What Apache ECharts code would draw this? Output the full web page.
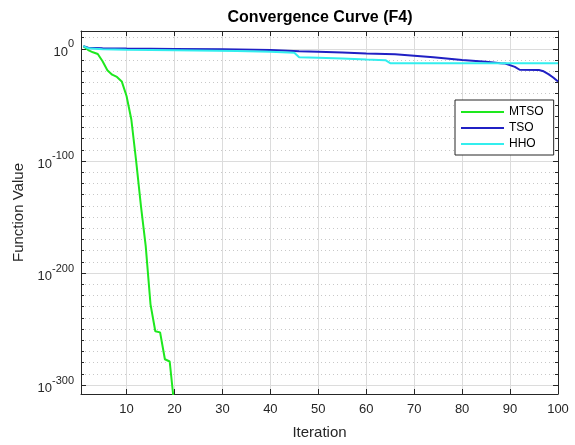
<!DOCTYPE html>
<html style="height: 100%">
<head>
    <meta charset="utf-8" />
    <title>Convergence Curve (F4)</title>
    <script type="text/javascript" src="https://cdn.jsdelivr.net/npm/echarts@6/dist/echarts.min.js"></script>
</head>
<body style="height: 100%; margin: 0">
<div id="main" style="width: 575px; height: 445px"></div>
<script type="text/javascript">
      // values are log10 of the function value (the y axis is a log scale)
      var mtsoIter = [1, 2, 3, 4, 5, 6, 7, 8, 9, 10, 11, 12, 13, 14, 15, 16, 17, 18, 19, 20];
      var mtsoLog10 = [2.5, -1, -3, -4.5, -11, -19, -23, -25, -29, -42, -63, -100, -140, -176, -228, -252, -253, -277, -279, -320];

      var tsoIter = [1, 2, 5, 10, 20, 30, 40, 46, 50, 55, 60, 66, 70, 74, 80, 85, 88, 89, 91, 92, 96, 97, 98, 99, 100];
      var tsoLog10 = [2.5, 1, 0.5, 0.3, 0, -0.3, -1, -2, -2.5, -3.2, -4, -4.7, -6, -7.4, -9.8, -11.5, -12.7, -13, -16, -18.6, -18.8, -20, -22.5, -25.5, -29];

      var hhoIter = [1, 2, 5, 10, 20, 33, 40, 45, 46, 50, 55, 60, 64, 65, 100];
      var hhoLog10 = [2.5, 0.5, -0.3, -0.7, -1.2, -1.8, -2.5, -3.5, -7.4, -7.8, -8.5, -9.5, -10, -12.7, -12.8];

      var seriesNames = ["MTSO", "TSO", "HHO"];
      var seriesColors = ["#1ee81e", "#2020c4", "#33eeee"];

      function pairs(xs, ys) {
        return xs.map(function (x, i) { return [x, ys[i]]; });
      }

      var font = "'Liberation Sans', Arial, sans-serif";
      var axisColor = "#262626";

      var chart = echarts.init(document.getElementById("main"));
      var option = {
        animation: false,
        backgroundColor: "#fff",
        textStyle: { fontFamily: font },
        title: {
          text: "Convergence Curve (F4)",
          left: 320,
          top: 10,
          padding: 0,
          textAlign: "center",
          textStyle: { fontSize: 16, fontWeight: "bold", color: "#000", fontFamily: font }
        },
        legend: {
          data: seriesNames,
          orient: "vertical",
          left: 455,
          top: 100,
          padding: [6, 10, 5, 5],
          itemWidth: 43,
          itemHeight: 14,
          itemGap: 4,
          backgroundColor: "#fff",
          borderColor: axisColor,
          borderWidth: 1,
          borderRadius: 0,
          itemStyle: { opacity: 0 },
          textStyle: { fontSize: 12, color: "#000", fontFamily: font }
        },
        grid: { left: 81, right: 17, top: 31, bottom: 47 },
        xAxis: [
          {
            type: "value",
            min: 0.5,
            max: 100,
            splitNumber: 10,
            name: "Iteration",
            nameLocation: "middle",
            nameGap: 31,
            nameTextStyle: { fontSize: 15, color: axisColor, fontFamily: font },
            axisLine: { show: true, onZero: false, lineStyle: { color: axisColor, width: 1 } },
            axisTick: { show: true, inside: true, length: 5, lineStyle: { color: axisColor } },
            axisLabel: {
              fontSize: 13, color: axisColor, margin: 9, showMinLabel: false,
              formatter: function (v) { return v % 10 === 0 ? String(v) : ""; }
            },
            splitLine: { show: true, lineStyle: { color: "#dcdcdc", width: 1 } }
          },
          {
            type: "value",
            position: "top",
            min: 0.5,
            max: 100,
            splitNumber: 10,
            axisLine: { show: true, onZero: false, lineStyle: { color: axisColor, width: 1 } },
            axisTick: { show: true, inside: true, length: 5, lineStyle: { color: axisColor } },
            axisLabel: { show: false },
            splitLine: { show: false }
          }
        ],
        yAxis: [
          {
            type: "value",
            min: -308,
            max: 16,
            splitNumber: 3,
            name: "Function Value",
            nameLocation: "middle",
            nameGap: 52,
            nameTextStyle: { fontSize: 15, color: axisColor, fontFamily: font },
            axisLine: { show: true, onZero: false, lineStyle: { color: axisColor, width: 1 } },
            axisTick: { show: true, inside: true, length: 5, lineStyle: { color: axisColor } },
            minorTick: { show: true, splitNumber: 10, length: 3, lineStyle: { color: axisColor } },
            axisLabel: {
              margin: 7,
              showMinLabel: false,
              showMaxLabel: false,
              formatter: function (v) {
                if (v % 100 !== 0) return "";
                return "{b|10}{s|" + v + "}";
              },
              rich: {
                b: { fontSize: 13, color: axisColor, lineHeight: 20, verticalAlign: "bottom", fontFamily: font },
                s: { fontSize: 11, color: axisColor, lineHeight: 12, verticalAlign: "top", fontFamily: font }
              }
            },
            splitLine: { show: true, lineStyle: { color: "#dcdcdc", width: 1 } },
            minorSplitLine: { show: true, lineStyle: { color: "#c8c8c8", width: 1, type: [1, 3] } }
          },
          {
            type: "value",
            position: "right",
            min: -308,
            max: 16,
            splitNumber: 3,
            axisLine: { show: true, onZero: false, lineStyle: { color: axisColor, width: 1 } },
            axisTick: { show: true, inside: true, length: 5, lineStyle: { color: axisColor } },
            minorTick: { show: true, splitNumber: 10, length: 3, lineStyle: { color: axisColor } },
            axisLabel: { show: false },
            splitLine: { show: false }
          }
        ],
        series: [
          {
            name: seriesNames[0], type: "line", symbol: "none", clip: true,
            data: pairs(mtsoIter, mtsoLog10),
            lineStyle: { width: 2, color: seriesColors[0] }, itemStyle: { color: seriesColors[0] }
          },
          {
            name: seriesNames[1], type: "line", symbol: "none", clip: true,
            data: pairs(tsoIter, tsoLog10),
            lineStyle: { width: 2, color: seriesColors[1] }, itemStyle: { color: seriesColors[1] }
          },
          {
            name: seriesNames[2], type: "line", symbol: "none", clip: true,
            data: pairs(hhoIter, hhoLog10),
            lineStyle: { width: 2, color: seriesColors[2] }, itemStyle: { color: seriesColors[2] }
          }
        ]
      };
      chart.setOption(option);
      window.addEventListener("resize", function () {
        chart.resize();
      });
</script>
</body>
</html>
